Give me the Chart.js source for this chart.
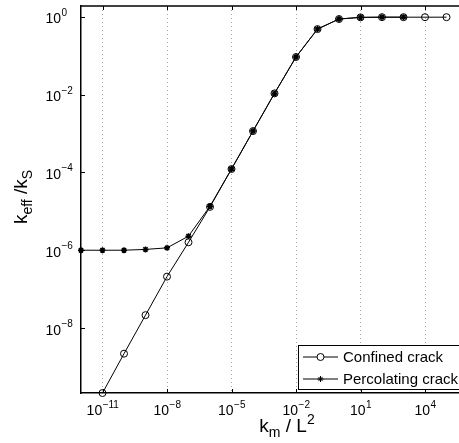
<!DOCTYPE html>
<html lang="en">
<head>
    <meta charset="UTF-8">
    <title>k_eff / k_S</title>
    <script src="https://cdn.jsdelivr.net/npm/chart.js"></script>
    <style>
        html, body { margin: 0; padding: 0; overflow: hidden; background: #fff; }
    </style>
</head>
<body>
    <canvas id="myChart" width="480" height="443"></canvas>

    <script>
        // data
        const confinedKm = [1e-11, 1e-10, 1e-9, 1e-8, 1e-7, 1e-6, 1e-5, 1e-4, 1e-3, 1e-2, 1e-1, 1e0, 1e1, 1e2, 1e3, 1e4, 1e5];
        const confinedKeff = [2.15e-10, 2.2e-9, 2.15e-8, 2.1e-7, 1.6e-6, 1.3e-5, 1.22e-4, 1.15e-3, 1.07e-2, 0.092, 0.48, 0.87, 0.96, 0.97, 0.97, 0.97, 0.97];
        const percolatingKm = [1e-12, 1e-11, 1e-10, 1e-9, 1e-8, 1e-7, 1e-6, 1e-5, 1e-4, 1e-3, 1e-2, 1e-1, 1e0, 1e1, 1e2, 1e3];
        const percolatingKeff = [1.0e-6, 1.0e-6, 1.0e-6, 1.05e-6, 1.15e-6, 2.3e-6, 1.35e-5, 1.22e-4, 1.15e-3, 1.07e-2, 0.092, 0.48, 0.87, 0.96, 0.97, 0.97];
        const seriesLabels = ["Confined crack", "Percolating crack"];

        const xTickValues = [1e-11, 1e-8, 1e-5, 1e-2, 1e1, 1e4];
        const yTickValues = [1e-8, 1e-6, 1e-4, 1e-2, 1e0];
        const xRange = [1e-12, 1e6];
        const yRange = [2.15e-10, 1.88];

        const FONT = '"Liberation Sans", Arial, Helvetica, sans-serif';

        function toPoints(xs, ys) {
            return xs.map((x, i) => ({x: x, y: ys[i]}));
        }

        // "10" with a raised exponent
        function powerLabel(ctx, exp, x, y, align) {
            const base = "10";
            const sup = String(exp).replace("-", "\u2212");
            ctx.font = "14px " + FONT;
            const wb = ctx.measureText(base).width;
            ctx.font = "10px " + FONT;
            const ws = ctx.measureText(sup).width;
            let left = x;
            if (align === "center") left = x - (wb + ws) / 2;
            if (align === "right") left = x - wb;
            ctx.textAlign = "left";
            ctx.textBaseline = "alphabetic";
            ctx.font = "14px " + FONT;
            ctx.fillText(base, left, y);
            ctx.font = "10px " + FONT;
            ctx.fillText(sup, left + wb + 0.5, y - 7.5);
        }

        // pieces: [text, size, shift]
        function richText(ctx, pieces) {
            let w = 0;
            pieces.forEach(p => { ctx.font = p[1] + "px " + FONT; w += ctx.measureText(p[0]).width; });
            return w;
        }
        function drawRich(ctx, pieces, x, y) {
            let cx = x;
            ctx.textAlign = "left";
            ctx.textBaseline = "alphabetic";
            pieces.forEach(p => {
                ctx.font = p[1] + "px " + FONT;
                ctx.fillText(p[0], cx, y + p[2]);
                cx += ctx.measureText(p[0]).width;
            });
        }

        const decor = {
            id: "decor",
            afterDraw(chart) {
                const ctx = chart.ctx;
                const area = chart.chartArea;
                const xs = chart.scales.x, ys = chart.scales.y;
                ctx.save();
                ctx.fillStyle = "#000";
                ctx.strokeStyle = "#000";

                // top border
                ctx.lineWidth = 1.5;
                ctx.beginPath();
                ctx.moveTo(area.left - 0.75, area.top);
                ctx.lineTo(area.right, area.top);
                ctx.stroke();

                // inward tick marks
                ctx.lineWidth = 1;
                ctx.beginPath();
                xTickValues.forEach(v => {
                    const px = Math.round(xs.getPixelForValue(v)) + 0.5;
                    ctx.moveTo(px, area.top);
                    ctx.lineTo(px, area.top + 4);
                    ctx.moveTo(px, area.bottom);
                    ctx.lineTo(px, area.bottom - 4);
                });
                yTickValues.forEach(v => {
                    const py = Math.round(ys.getPixelForValue(v)) + 0.5;
                    ctx.moveTo(area.left, py);
                    ctx.lineTo(area.left + 4, py);
                });
                ctx.stroke();

                // tick labels
                xTickValues.forEach(v => {
                    powerLabel(ctx, Math.round(Math.log10(v)), xs.getPixelForValue(v), area.bottom + 22, "center");
                });
                yTickValues.forEach(v => {
                    powerLabel(ctx, Math.round(Math.log10(v)), 61, ys.getPixelForValue(v) + 6.5, "right");
                });

                // x title: k_m / L^2
                const xt = [["k", 19, 0], ["m", 14, 5], [" / L", 19, 0], ["2", 14, -8]];
                const xw = richText(ctx, xt);
                drawRich(ctx, xt, 287 - xw / 2, 432);

                // y title: k_eff / k_S
                const yt = [["k", 19, 0], ["eff", 14, 5], [" /k", 19, 0], ["S", 14, 5]];
                const yw = richText(ctx, yt);
                ctx.save();
                ctx.translate(27, 197);
                ctx.rotate(-Math.PI / 2);
                drawRich(ctx, yt, -yw / 2, 0);
                ctx.restore();

                // legend
                const lx = 298, ly = 345, lb = 389;
                ctx.fillStyle = "#fff";
                ctx.fillRect(lx, ly, chart.width - lx + 5, lb - ly);
                ctx.lineWidth = 1;
                ctx.strokeStyle = "#000";
                ctx.strokeRect(lx + 0.5, ly + 0.5, chart.width, lb - ly);
                const rows = [357, 379];
                chart.data.datasets.forEach((ds, i) => {
                    const y = rows[i];
                    ctx.strokeStyle = ds.borderColor;
                    ctx.lineWidth = ds.borderWidth;
                    ctx.beginPath();
                    ctx.moveTo(303, y);
                    ctx.lineTo(338, y);
                    ctx.stroke();
                    Chart.helpers.drawPoint(ctx, {
                        pointStyle: ds.pointStyle,
                        radius: ds.pointRadius,
                        borderWidth: ds.pointBorderWidth,
                        rotation: 0
                    }, 320.5, y);
                    ctx.fillStyle = "#000";
                    ctx.font = "15px " + FONT;
                    ctx.textAlign = "left";
                    ctx.textBaseline = "middle";
                    ctx.fillText(ds.label, 343, y + 0.5);
                });
                ctx.restore();
            }
        };

        var ctx = document.getElementById("myChart").getContext("2d");
        var myChart = new Chart(ctx, {
            type: "line",
            data: {
                datasets: [
                    {
                        label: seriesLabels[0],
                        data: toPoints(confinedKm, confinedKeff),
                        borderColor: "#000",
                        borderWidth: 1,
                        pointStyle: "circle",
                        pointRadius: 3.5,
                        pointBorderWidth: 1,
                        pointBackgroundColor: "rgba(0,0,0,0)",
                        pointBorderColor: "#000",
                        tension: 0,
                        clip: false,
                        order: 1
                    },
                    {
                        label: seriesLabels[1],
                        data: toPoints(percolatingKm, percolatingKeff),
                        borderColor: "#000",
                        borderWidth: 1,
                        pointStyle: "star",
                        pointRadius: 3,
                        pointBorderWidth: 1.5,
                        pointBackgroundColor: "#000",
                        pointBorderColor: "#000",
                        tension: 0,
                        clip: false,
                        order: 0
                    }
                ]
            },
            options: {
                responsive: false,
                devicePixelRatio: 1,
                animation: false,
                layout: {padding: {left: 81, top: 6, right: 12, bottom: 50}},
                plugins: {legend: {display: false}, tooltip: {enabled: false}},
                scales: {
                    x: {
                        type: "logarithmic",
                        min: xRange[0],
                        max: xRange[1],
                        afterBuildTicks: s => { s.ticks = xTickValues.map(v => ({value: v})); },
                        ticks: {display: false},
                        grid: {color: "rgba(0,0,0,0.35)", lineWidth: 1, drawTicks: false},
                        border: {display: true, color: "#000", width: 1.5, dash: [1, 3]}
                    },
                    y: {
                        type: "logarithmic",
                        min: yRange[0],
                        max: yRange[1],
                        afterBuildTicks: s => { s.ticks = yTickValues.map(v => ({value: v})); },
                        ticks: {display: false},
                        grid: {display: false, drawTicks: false},
                        border: {display: true, color: "#000", width: 1.5}
                    }
                }
            },
            plugins: [decor]
        });
    </script>
</body>
</html>
